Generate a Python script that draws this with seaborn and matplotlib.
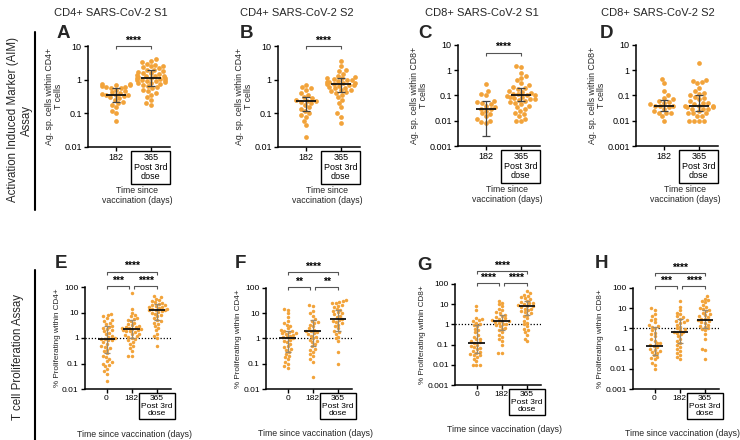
import numpy as np
import pandas as pd
import matplotlib
matplotlib.use("Agg")
import matplotlib.pyplot as plt
import seaborn as sns
from matplotlib.lines import Line2D
from matplotlib.ticker import FixedLocator, FuncFormatter, NullLocator

# ---------------- data ----------------
top_cats = ["182", "365\nPost 3rd\ndose"]
bot_cats = ["0", "182", "365\nPost 3rd\ndose"]

col_titles = ["CD4+ SARS-CoV-2 S1", "CD4+ SARS-CoV-2 S2",
              "CD8+ SARS-CoV-2 S1", "CD8+ SARS-CoV-2 S2"]

A_182 = [0.75, 0.72, 0.7, 0.68, 0.65, 0.62, 0.6, 0.58, 0.55, 0.5, 0.45, 0.42, 0.4, 0.38,
         0.36, 0.35, 0.34, 0.32, 0.3, 0.28, 0.25, 0.22, 0.2, 0.18, 0.15, 0.12, 0.1, 0.06]
A_365 = [4, 3.5, 3.3, 3, 2.8, 2.6, 2.5, 2.3, 2.2, 2, 1.9, 1.8, 1.7, 1.6, 1.6, 1.5, 1.4, 1.3,
         1.3, 1.25, 1.2, 1.15, 1.1, 1.1, 1.05, 1, 1, 0.95, 0.9, 0.9, 0.85, 0.8, 0.8, 0.75, 0.7,
         0.65, 0.6, 0.55, 0.5, 0.45, 0.4, 0.35, 0.3, 0.25, 0.2, 0.18]
B_182 = [0.7, 0.6, 0.55, 0.5, 0.4, 0.35, 0.3, 0.28, 0.25, 0.24, 0.23, 0.22, 0.2, 0.18,
         0.15, 0.13, 0.12, 0.1, 0.09, 0.08, 0.06, 0.045, 0.02]
B_365 = [3.5, 2.5, 2, 1.8, 1.5, 1.3, 1.2, 1.15, 1.1, 1.05, 1.0, 0.95, 0.9, 0.88, 0.85, 0.8,
         0.78, 0.75, 0.72, 0.7, 0.68, 0.65, 0.6, 0.58, 0.55, 0.5, 0.48, 0.45, 0.42, 0.4, 0.35,
         0.3, 0.25, 0.2, 0.15, 0.1, 0.08, 0.05]
C_182 = [0.28, 0.15, 0.12, 0.1, 0.06, 0.055, 0.05, 0.045, 0.04, 0.035, 0.03, 0.028, 0.025,
         0.02, 0.018, 0.015, 0.012, 0.01, 0.009, 0.008]
C_365 = [1.5, 1.3, 0.8, 0.6, 0.5, 0.4, 0.3, 0.25, 0.22, 0.2, 0.18, 0.15, 0.14, 0.13, 0.12,
         0.11, 0.1, 0.1, 0.095, 0.09, 0.085, 0.08, 0.075, 0.07, 0.065, 0.06, 0.055, 0.05,
         0.045, 0.04, 0.035, 0.03, 0.025, 0.02, 0.018, 0.015, 0.012, 0.01, 0.01]
D_182 = [0.45, 0.3, 0.15, 0.1, 0.08, 0.07, 0.06, 0.055, 0.05, 0.045, 0.04, 0.04, 0.038,
         0.035, 0.03, 0.025, 0.02, 0.02, 0.02, 0.015, 0.01]
D_365 = [2.0, 0.4, 0.38, 0.35, 0.3, 0.2, 0.15, 0.13, 0.12, 0.1, 0.09, 0.08, 0.07, 0.06, 0.05,
         0.05, 0.045, 0.04, 0.04, 0.04, 0.035, 0.035, 0.03, 0.03, 0.03, 0.025, 0.02, 0.02,
         0.02, 0.015, 0.015, 0.01, 0.01, 0.01, 0.01]

E_0 = [9, 8, 7, 6, 5, 4.5, 4, 3.5, 3, 2.8, 2.5, 2.2, 2, 1.8, 1.6, 1.4, 1.2, 1.1, 1.0, 0.95,
       0.9, 0.85, 0.8, 0.7, 0.6, 0.5, 0.45, 0.4, 0.35, 0.3, 0.25, 0.2, 0.18, 0.15, 0.12,
       0.11, 0.1, 0.09, 0.08, 0.06, 0.05, 0.04, 0.02]
E_182 = [60, 14, 10, 8, 7, 6, 5.5, 5, 4.5, 4, 3.5, 3.2, 3, 2.8, 2.6, 2.5, 2.4, 2.3, 2.2, 2.1,
         2, 1.9, 1.8, 1.7, 1.5, 1.4, 1.3, 1.2, 1.1, 1.0, 0.9, 0.8, 0.7, 0.6, 0.5, 0.4, 0.3,
         0.2, 0.2]
E_365 = [45, 40, 35, 30, 28, 25, 24, 22, 20, 19, 18, 17, 16, 15, 14, 13.5, 13, 12, 12, 11,
         10.5, 10, 9, 8, 7, 6, 5, 4.5, 4, 3.5, 3, 2.5, 2, 1.5, 1.2, 1, 0.5]
F_0 = [15, 14, 10, 7, 5, 4, 3.5, 3, 2.5, 2.2, 2, 1.9, 1.8, 1.7, 1.6, 1.5, 1.4, 1.3, 1.2,
       1.1, 1.0, 0.9, 0.8, 0.7, 0.6, 0.5, 0.45, 0.4, 0.35, 0.3, 0.25, 0.2, 0.18, 0.15, 0.12,
       0.1, 0.08, 0.07]
F_182 = [22, 20, 12, 10, 8, 6, 5, 4.5, 4, 3.5, 3, 2.5, 2.2, 2, 1.9, 1.8, 1.6, 1.5, 1.3, 1.2,
         1.0, 0.9, 0.8, 0.7, 0.6, 0.5, 0.4, 0.35, 0.3, 0.25, 0.2, 0.15, 0.12, 0.03]
F_365 = [32, 30, 28, 26, 25, 22, 20, 18, 15, 14, 12, 11, 10, 9, 8, 7, 6, 5.5, 5, 4.5, 4,
         3.5, 3, 2.5, 2, 1.8, 1.5, 1.2, 1, 0.8, 0.3, 0.1]
G_0 = [8, 5, 2, 1.8, 1.6, 1.5, 1.2, 1.0, 0.9, 0.8, 0.6, 0.5, 0.4, 0.3, 0.25, 0.2, 0.18,
       0.15, 0.13, 0.12, 0.1, 0.09, 0.08, 0.07, 0.06, 0.05, 0.045, 0.04, 0.035, 0.03, 0.03,
       0.025, 0.02, 0.015, 0.01, 0.01, 0.01]
G_182 = [15, 12, 10, 8, 6, 5, 4, 3.5, 3, 2.5, 2.2, 2, 1.8, 1.6, 1.5, 1.4, 1.3, 1.2, 1.1, 1,
         0.9, 0.8, 0.7, 0.6, 0.5, 0.4, 0.3, 0.25, 0.2, 0.15, 0.1, 0.04, 0.04]
G_365 = [45, 35, 30, 25, 22, 20, 18, 15, 13, 12, 11, 10, 9, 8, 8, 7, 6, 5.5, 5, 4.5, 4, 3.5,
         3, 2.5, 2, 1.5, 1.2, 1, 0.8, 0.6, 0.5, 0.4, 0.3, 0.2, 0.15]
H_0 = [10, 8, 5, 4, 3, 2.5, 2, 1.5, 1.3, 1.2, 1.0, 0.8, 0.6, 0.5, 0.4, 0.3, 0.25, 0.2, 0.18,
       0.15, 0.14, 0.12, 0.1, 0.09, 0.08, 0.07, 0.06, 0.05, 0.04, 0.035, 0.03, 0.02, 0.015,
       0.01]
H_182 = [22, 12, 8, 6, 5, 4, 3.5, 3, 2.5, 2.2, 2, 1.8, 1.5, 1.2, 1, 0.9, 0.8, 0.7, 0.65, 0.6,
         0.5, 0.4, 0.3, 0.25, 0.2, 0.15, 0.12, 0.1, 0.08, 0.06, 0.05, 0.04, 0.03]
H_365 = [40, 30, 25, 22, 20, 15, 12, 10, 9, 8, 7, 6, 5, 4.5, 4, 3.5, 3, 2.8, 2.5, 2.2, 2,
         1.8, 1.5, 1.3, 1.2, 1, 0.9, 0.8, 0.5, 0.3, 0.1, 0.09, 0.03]

# medians and interquartile bars
A_med, A_lo, A_hi = [0.35, 1.1], [0.22, 0.65], [0.55, 1.9]
B_med, B_lo, B_hi = [0.23, 0.75], [0.12, 0.42], [0.3, 1.15]
C_med, C_lo, C_hi = [0.03, 0.1], [0.0025, 0.06], [0.06, 0.2]
D_med, D_lo, D_hi = [0.04, 0.04], [0.025, 0.025], [0.065, 0.1]
E_med, E_lo, E_hi = [0.95, 2.3, 12], [0.25, 1.0, 5], [3, 5, 22]
F_med, F_lo, F_hi = [1.0, 1.9, 5.8], [0.3, 0.5, 2], [2, 5.5, 13]
G_med, G_lo, G_hi = [0.12, 1.4, 8], [0.04, 0.5, 3], [0.9, 3, 15]
H_med, H_lo, H_hi = [0.14, 0.65, 2.7], [0.05, 0.2, 1], [1.2, 2.8, 8]

# significance labels
A_sig = ["****"]
B_sig = ["****"]
C_sig = ["****"]
D_sig = []
E_sig = ["***", "****", "****"]
F_sig = ["**", "**", "****"]
G_sig = ["****", "****", "****"]
H_sig = ["***", "****", "****"]

# ---------------- style ----------------
sns.set_theme(style="ticks")
plt.rcParams["font.family"] = ["Liberation Sans", "DejaVu Sans"]
ORANGE = "#F2A33A"
W, H = 740, 440
fig = plt.figure(figsize=(7.4, 4.4), dpi=100)


def rect(left, top, right, bottom):
    return [left / W, 1 - bottom / H, (right - left) / W, (bottom - top) / H]


panels = [
    dict(letter="A", groups=[A_182, A_365], med=A_med, lo=A_lo, hi=A_hi, sig=A_sig,
         r=(88, 46, 170, 147), ylim=(0.01, 10), ylab="Ag. sp. cells within CD4+\nT cells",
         bl=10, lx=(57, 33)),
    dict(letter="B", groups=[B_182, B_365], med=B_med, lo=B_lo, hi=B_hi, sig=B_sig,
         r=(278, 46, 360, 147), ylim=(0.01, 10), ylab="Ag. sp. cells within CD4+\nT cells",
         bl=10, lx=(240, 33)),
    dict(letter="C", groups=[C_182, C_365], med=C_med, lo=C_lo, hi=C_hi, sig=C_sig,
         r=(458, 45, 540, 146), ylim=(0.001, 10), ylab="Ag. sp. cells within CD8+\nT cells",
         bl=5, lx=(418, 33)),
    dict(letter="D", groups=[D_182, D_365], med=D_med, lo=D_lo, hi=D_hi, sig=D_sig,
         r=(636, 45, 718, 146), ylim=(0.001, 10), ylab="Ag. sp. cells within CD8+\nT cells",
         bl=5, lx=(600, 33)),
    dict(letter="E", groups=[E_0, E_182, E_365], med=E_med, lo=E_lo, hi=E_hi, sig=E_sig,
         r=(85, 287, 171, 389), ylim=(0.01, 100), ylab="% Proliferating within CD4+",
         bl=(110, 400), lx=(55, 263)),
    dict(letter="F", groups=[F_0, F_182, F_365], med=F_med, lo=F_lo, hi=F_hi, sig=F_sig,
         r=(266, 288, 352, 389), ylim=(0.01, 100), ylab="% Proliferating within CD4+",
         bl=(110, 420), lx=(235, 263)),
    dict(letter="G", groups=[G_0, G_182, G_365], med=G_med, lo=G_lo, hi=G_hi, sig=G_sig,
         r=(455, 284, 541, 385), ylim=(0.001, 100), ylab="% Proliferating within CD8+",
         bl=(110, 440), lx=(417, 265)),
    dict(letter="H", groups=[H_0, H_182, H_365], med=H_med, lo=H_lo, hi=H_hi, sig=H_sig,
         r=(633, 288, 719, 389), ylim=(0.001, 100), ylab="% Proliferating within CD8+",
         bl=(120, 560), lx=(595, 264)),
]


def bracket(ax, x0, x1, y, text, fs=7.5):
    lo, hi = np.log10(ax.get_ylim())
    hpx = ax.get_position().height * H
    drop = 10 ** (3.0 * (hi - lo) / hpx)
    ax.plot([x0, x0, x1, x1], [y / drop, y, y, y / drop], color="#555555", lw=0.8,
            clip_on=False, solid_capstyle="butt")
    ax.text((x0 + x1) / 2, y * 10 ** (0.5 * (hi - lo) / hpx), text, ha="center",
            va="bottom", fontsize=fs, fontweight="bold", color="black", clip_on=False)


for p in panels:
    ax = fig.add_axes(rect(*p["r"]))
    top = len(p["groups"]) == 2
    cats = top_cats if top else bot_cats
    df = pd.DataFrame({
        "cat": np.concatenate([[c] * len(g) for c, g in zip(cats, p["groups"])]),
        "val": np.concatenate([np.asarray(g, float) for g in p["groups"]]),
    })
    sns.swarmplot(data=df, x="cat", y="val", order=cats, color=ORANGE,
                  size=3.4 if top else 2.5, linewidth=0, log_scale=True, ax=ax,
                  warn_thresh=1.0)
    n = len(cats)
    xs = np.arange(n)
    hw = 0.28 if top else 0.33
    med = np.array(p["med"]); lo = np.array(p["lo"]); hi = np.array(p["hi"])
    ax.errorbar(xs, med, yerr=[med - lo, hi - med], fmt="none",
                ecolor="#444444" if top else "#9a8a70", elinewidth=0.9,
                capsize=3 if top else 2, capthick=0.9, zorder=4)
    ax.hlines(med, xs - hw, xs + hw, color="#111111", lw=1.3, zorder=5)

    ax.set_ylim(*p["ylim"])
    if top:
        ax.set_xlim(-0.8, 1.55)
    else:
        ax.set_xlim(-0.85, 2.55)
        ax.axhline(1, ls=(0, (1, 1.5)), color="black", lw=0.9, zorder=1)

    lo_e, hi_e = np.log10(p["ylim"])
    ticks = [10.0 ** k for k in range(int(round(lo_e)), int(round(hi_e)) + 1)]
    ax.yaxis.set_major_locator(FixedLocator(ticks))
    ax.yaxis.set_minor_locator(NullLocator())
    ax.yaxis.set_major_formatter(FuncFormatter(lambda v, pos: f"{v:g}"))
    ax.set_xticks(xs)
    fs_tick = 6.5 if top else 6.0
    ax.set_xticklabels(cats, linespacing=1.05)
    lab = ax.get_xticklabels()[-1]
    lab.set_bbox(dict(boxstyle="square,pad=0.3", fc="none", ec="black", lw=1.0))
    ax.tick_params(axis="both", length=3, width=1, labelsize=fs_tick, color="black",
                   labelcolor="black", pad=1.5)
    for s in ("top", "right"):
        ax.spines[s].set_visible(False)
    for s in ("left", "bottom"):
        ax.spines[s].set_linewidth(1.1)
        ax.spines[s].set_color("black")

    ax.set_ylabel(p["ylab"], fontsize=6.3 if top else 5.9, linespacing=1.0, labelpad=1)
    if top:
        ax.set_xlabel("Time since\nvaccination (days)", fontsize=6.3, linespacing=1.05)
        ax.xaxis.set_label_coords(0.6, -0.39)
    else:
        ax.set_xlabel("Time since vaccination (days)", fontsize=6.3)
        ax.xaxis.set_label_coords(0.58, -0.40)

    if top:
        for s in p["sig"]:
            bracket(ax, 0, 1, p["bl"], s)
    else:
        yl, yh = p["bl"]
        bracket(ax, 0, 0.9, yl, p["sig"][0])
        bracket(ax, 1.1, 2, yl, p["sig"][1])
        bracket(ax, 0, 2, yh, p["sig"][2])

    fig.text(p["lx"][0] / W, 1 - p["lx"][1] / H, p["letter"], fontsize=13.5,
             fontweight="bold", ha="left", va="center")

for t, cx in zip(col_titles, [111, 297, 482, 658]):
    fig.text(cx / W, 1 - 13 / H, t, fontsize=8, ha="center", va="center")

fig.text(20 / W, 1 - 120 / H, "Activation Induced Marker (AIM)\nAssay", rotation=90,
         fontsize=8.3, ha="center", va="center", multialignment="center")
fig.text(18 / W, 1 - 357 / H, "T cell Proliferation Assay", rotation=90,
         fontsize=8.3, ha="center", va="center")
fig.add_artist(Line2D([35 / W, 35 / W], [1 - 32 / H, 1 - 210 / H], color="black", lw=1.5))
fig.add_artist(Line2D([35 / W, 35 / W], [1 - 270 / H, 1 - 440 / H], color="black", lw=1.5))

fig.savefig("out.png", dpi=100)
